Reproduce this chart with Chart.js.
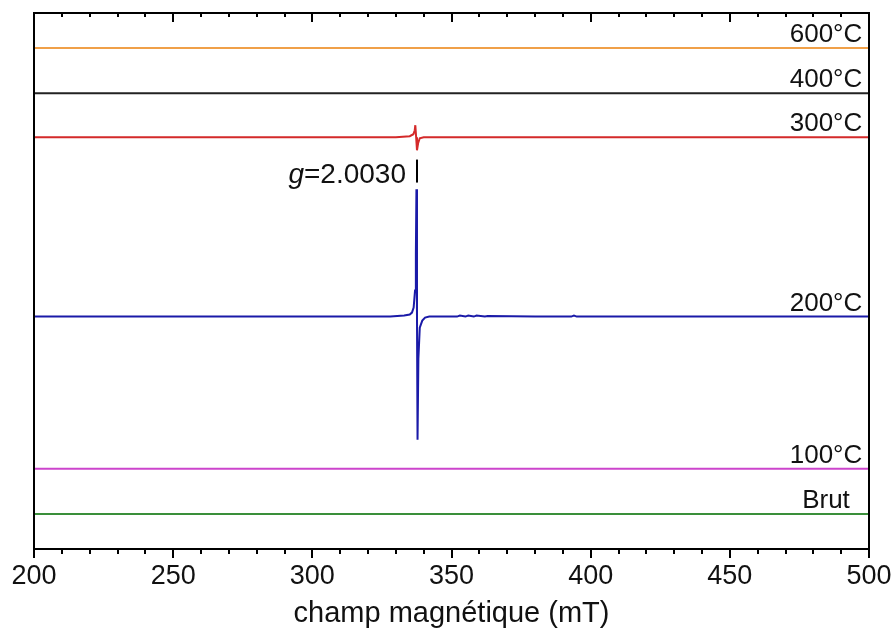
<!DOCTYPE html>
<html><head><meta charset="utf-8">
<script src="https://cdn.jsdelivr.net/npm/chart.js@4/dist/chart.umd.min.js"></script>
<style>html,body{margin:0;padding:0;background:#fff}#wrap{width:896px;height:631px}</style>
</head><body><div id="wrap"><canvas id="c" width="896" height="631"></canvas></div>
<script>
// magnetic field (mT) and stacked-offset intensities (a.u.)
const fieldFlat = [200, 500];
const brut = [35, 35];
const t100 = [80, 80];
const t400 = [455, 455];
const t600 = [500, 500];

const field200 = [200, 250, 300, 328, 333, 335, 335.8, 336.4, 336.9, 337.2, 337.4, 337.6, 337.8, 338.1, 338.6, 339.5, 340.5, 342, 345, 352, 353, 355, 356, 358, 359, 362, 363, 380, 393, 394, 395, 420, 500];
const t200   = [232, 232, 232, 232, 233, 234, 236, 241, 258, 295, 359, 232, 109, 190, 221, 228, 231, 232, 232, 232, 233, 232, 233, 232, 233, 232, 232.5, 232, 232, 233, 232, 232, 232];

const field300 = [200, 330, 335, 336.3, 336.8, 337.0, 337.3, 337.6, 338.0, 338.6, 340, 500];
const t300     = [411, 411, 412, 414, 418, 423, 411, 398, 405, 410, 411, 411];

const seriesLabels = ['600°C', '400°C', '300°C', '200°C', '100°C', 'Brut'];
const seriesLevels = [500, 455, 411, 232, 80, 35];
const gPosition = 337.6;
const gText = '=2.0030';

const xTicksMin = 200, xTicksMax = 500;

const toPts = (xs, ys) => xs.map((x, i) => ({x, y: ys[i]}));
const FONT = '"Liberation Sans", Arial, sans-serif';

const frame = {
  id: 'frame',
  afterDatasetsDraw(chart) {
    const {ctx, chartArea: a, scales: {x, y}} = chart;
    ctx.save();
    ctx.strokeStyle = '#000';
    ctx.lineWidth = 2;
    ctx.strokeRect(a.left, a.top, a.right - a.left, a.bottom - a.top);
    ctx.beginPath();
    x.ticks.forEach(t => {
      const px = Math.round(x.getPixelForValue(t.value));
      const major = t.value % 50 === 0;
      ctx.moveTo(px, a.bottom); ctx.lineTo(px, a.bottom + (major ? 9 : 5));
      ctx.moveTo(px, a.top); ctx.lineTo(px, a.top + (major ? 9 : 4));
    });
    ctx.stroke();
    // series labels
    ctx.fillStyle = '#111';
    ctx.font = '26px ' + FONT;
    ctx.textAlign = 'center';
    ctx.textBaseline = 'alphabetic';
    seriesLabels.forEach((s, i) => {
      ctx.fillText(s, a.right - 43, y.getPixelForValue(seriesLevels[i]) - 6);
    });
    // g marker
    const gx = x.getPixelForValue(gPosition);
    const gy = y.getPixelForValue(seriesLevels[3]);
    ctx.beginPath();
    ctx.moveTo(gx, gy - 157); ctx.lineTo(gx, gy - 134);
    ctx.stroke();
    ctx.textAlign = 'right';
    ctx.font = '28px ' + FONT;
    const w = ctx.measureText(gText).width;
    const right = gx - 11;
    ctx.fillText(gText, right, gy - 134);
    ctx.font = 'italic 28px ' + FONT;
    ctx.fillText('g', right - w, gy - 134);
    ctx.restore();
  }
};

const mk = (label, data, color) => ({label, data, borderColor: color, borderWidth: 2, pointRadius: 0, tension: 0, fill: false});

new Chart(document.getElementById('c'), {
  type: 'line',
  data: {
    datasets: [
      mk('Brut', toPts(fieldFlat, brut), '#3a8f3a'),
      mk('100°C', toPts(fieldFlat, t100), '#cc44cc'),
      mk('200°C', toPts(field200, t200), '#1a1aa8'),
      mk('300°C', toPts(field300, t300), '#d42a2a'),
      mk('400°C', toPts(fieldFlat, t400), '#222222'),
      mk('600°C', toPts(fieldFlat, t600), '#f0a048')
    ]
  },
  options: {
    responsive: false,
    animation: false,
    layout: {padding: {left: 34, right: 27, top: 13, bottom: 0}},
    plugins: {legend: {display: false}, tooltip: {enabled: false}},
    scales: {
      x: {
        type: 'linear', min: xTicksMin, max: xTicksMax,
        grid: {display: false, drawTicks: false},
        border: {display: false},
        ticks: {
          stepSize: 10, autoSkip: false, maxRotation: 0, padding: 11,
          color: '#111', font: {size: 27, family: FONT},
          callback: v => (v % 50 === 0 ? String(v) : '')
        },
        title: {display: true, text: 'champ magnétique (mT)', color: '#111', font: {size: 29, family: FONT}, padding: {top: 0, bottom: 0}},
        afterFit(scale) { scale.height = 82; scale.paddingLeft = 0; scale.paddingRight = 0; }
      },
      y: {display: false, min: 0, max: 535}
    }
  },
  plugins: [frame]
});
</script></body></html>
